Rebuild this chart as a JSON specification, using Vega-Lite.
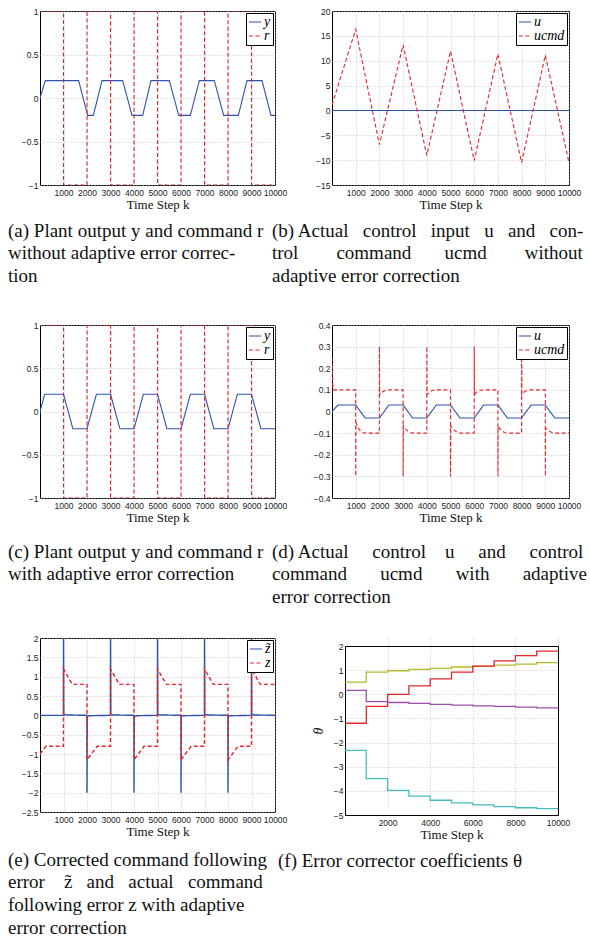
{
"$schema": "https://vega.github.io/schema/vega-lite/v6.json",
"background": "white",
"padding": {"left": 7, "top": 6, "right": 2, "bottom": 2},
"columns": 2,
"spacing": {"row": 140, "column": 57},
"bounds": "flush",
"align": "none",
"resolve": {"scale": {"color": "independent", "strokeDash": "independent"}, "legend": {"color": "independent", "strokeDash": "independent"}},
"datasets": {
"a": [
{"k":0,"v":0,"s":"y"},{"k":227,"v":0.2,"s":"y"},{"k":1645,"v":0.2,"s":"y"},{"k":2028,"v":-0.2,"s":"y"},{"k":2270,"v":-0.2,"s":"y"},{"k":2638,"v":0.2,"s":"y"},{"k":3518,"v":0.2,"s":"y"},{"k":3915,"v":-0.2,"s":"y"},{"k":4369,"v":-0.2,"s":"y"},{"k":4723,"v":0.2,"s":"y"},{"k":5504,"v":0.2,"s":"y"},{"k":5901,"v":-0.2,"s":"y"},{"k":6397,"v":-0.2,"s":"y"},{"k":6780,"v":0.2,"s":"y"},{"k":7418,"v":0.2,"s":"y"},{"k":7816,"v":-0.2,"s":"y"},{"k":8440,"v":-0.2,"s":"y"},{"k":8809,"v":0.2,"s":"y"},{"k":9447,"v":0.2,"s":"y"},{"k":9830,"v":-0.2,"s":"y"},{"k":10000,"v":-0.2,"s":"y"},
{"k":0,"v":1,"s":"r"},{"k":1000,"v":1,"s":"r"},{"k":1001,"v":-1,"s":"r"},{"k":2000,"v":-1,"s":"r"},{"k":2001,"v":1,"s":"r"},{"k":3000,"v":1,"s":"r"},{"k":3001,"v":-1,"s":"r"},{"k":4000,"v":-1,"s":"r"},{"k":4001,"v":1,"s":"r"},{"k":5000,"v":1,"s":"r"},{"k":5001,"v":-1,"s":"r"},{"k":6000,"v":-1,"s":"r"},{"k":6001,"v":1,"s":"r"},{"k":7000,"v":1,"s":"r"},{"k":7001,"v":-1,"s":"r"},{"k":8000,"v":-1,"s":"r"},{"k":8001,"v":1,"s":"r"},{"k":9000,"v":1,"s":"r"},{"k":9001,"v":-1,"s":"r"},{"k":10000,"v":-1,"s":"r"}
],
"b": [
{"k":0,"v":0,"s":"u"},{"k":10000,"v":0,"s":"u"},
{"k":0,"v":1.1,"s":"ucmd"},{"k":1000,"v":16.3,"s":"ucmd"},{"k":2000,"v":-6.9,"s":"ucmd"},{"k":3000,"v":13.2,"s":"ucmd"},{"k":4000,"v":-9.05,"s":"ucmd"},{"k":5000,"v":11.9,"s":"ucmd"},{"k":6000,"v":-10.1,"s":"ucmd"},{"k":7000,"v":11.35,"s":"ucmd"},{"k":8000,"v":-10.5,"s":"ucmd"},{"k":9000,"v":11.1,"s":"ucmd"},{"k":10000,"v":-10.5,"s":"ucmd"}
],
"c": [
{"k":0,"v":0,"s":"y"},{"k":200,"v":0.2,"s":"y"},{"k":1000,"v":0.2,"s":"y"},{"k":1400,"v":-0.2,"s":"y"},{"k":2000,"v":-0.2,"s":"y"},{"k":2400,"v":0.2,"s":"y"},{"k":3000,"v":0.2,"s":"y"},{"k":3400,"v":-0.2,"s":"y"},{"k":4000,"v":-0.2,"s":"y"},{"k":4400,"v":0.2,"s":"y"},{"k":5000,"v":0.2,"s":"y"},{"k":5400,"v":-0.2,"s":"y"},{"k":6000,"v":-0.2,"s":"y"},{"k":6400,"v":0.2,"s":"y"},{"k":7000,"v":0.2,"s":"y"},{"k":7400,"v":-0.2,"s":"y"},{"k":8000,"v":-0.2,"s":"y"},{"k":8400,"v":0.2,"s":"y"},{"k":9000,"v":0.2,"s":"y"},{"k":9400,"v":-0.2,"s":"y"},{"k":10000,"v":-0.2,"s":"y"},
{"k":0,"v":1,"s":"r"},{"k":1000,"v":1,"s":"r"},{"k":1001,"v":-1,"s":"r"},{"k":2000,"v":-1,"s":"r"},{"k":2001,"v":1,"s":"r"},{"k":3000,"v":1,"s":"r"},{"k":3001,"v":-1,"s":"r"},{"k":4000,"v":-1,"s":"r"},{"k":4001,"v":1,"s":"r"},{"k":5000,"v":1,"s":"r"},{"k":5001,"v":-1,"s":"r"},{"k":6000,"v":-1,"s":"r"},{"k":6001,"v":1,"s":"r"},{"k":7000,"v":1,"s":"r"},{"k":7001,"v":-1,"s":"r"},{"k":8000,"v":-1,"s":"r"},{"k":8001,"v":1,"s":"r"},{"k":9000,"v":1,"s":"r"},{"k":9001,"v":-1,"s":"r"},{"k":10000,"v":-1,"s":"r"}
],
"d": [
{"k":0,"v":0,"s":"u"},{"k":250,"v":0.03,"s":"u"},{"k":1000,"v":0.03,"s":"u"},{"k":1400,"v":-0.03,"s":"u"},{"k":2000,"v":-0.03,"s":"u"},{"k":2400,"v":0.03,"s":"u"},{"k":3000,"v":0.03,"s":"u"},{"k":3400,"v":-0.03,"s":"u"},{"k":4000,"v":-0.03,"s":"u"},{"k":4400,"v":0.03,"s":"u"},{"k":5000,"v":0.03,"s":"u"},{"k":5400,"v":-0.03,"s":"u"},{"k":6000,"v":-0.03,"s":"u"},{"k":6400,"v":0.03,"s":"u"},{"k":7000,"v":0.03,"s":"u"},{"k":7400,"v":-0.03,"s":"u"},{"k":8000,"v":-0.03,"s":"u"},{"k":8400,"v":0.03,"s":"u"},{"k":9000,"v":0.03,"s":"u"},{"k":9400,"v":-0.03,"s":"u"},{"k":10000,"v":-0.03,"s":"u"},
{"k":0,"v":0.25,"s":"ucmd"},{"k":40,"v":0.1,"s":"ucmd"},{"k":999,"v":0.1,"s":"ucmd"},{"k":1000,"v":-0.3,"s":"ucmd"},{"k":1010,"v":-0.05,"s":"ucmd"},{"k":1100,"v":-0.075,"s":"ucmd"},{"k":1200,"v":-0.09,"s":"ucmd"},{"k":1300,"v":-0.097,"s":"ucmd"},{"k":1420,"v":-0.1,"s":"ucmd"},{"k":1999,"v":-0.1,"s":"ucmd"},
{"k":2000,"v":0.3,"s":"ucmd"},{"k":2010,"v":0.075,"s":"ucmd"},{"k":2100,"v":0.088,"s":"ucmd"},{"k":2200,"v":0.095,"s":"ucmd"},{"k":2300,"v":0.099,"s":"ucmd"},{"k":2420,"v":0.1,"s":"ucmd"},{"k":2999,"v":0.1,"s":"ucmd"},
{"k":3000,"v":-0.3,"s":"ucmd"},{"k":3010,"v":-0.065,"s":"ucmd"},{"k":3100,"v":-0.08,"s":"ucmd"},{"k":3200,"v":-0.091,"s":"ucmd"},{"k":3300,"v":-0.097,"s":"ucmd"},{"k":3420,"v":-0.1,"s":"ucmd"},{"k":3999,"v":-0.1,"s":"ucmd"},
{"k":4000,"v":0.3,"s":"ucmd"},{"k":4010,"v":0.078,"s":"ucmd"},{"k":4100,"v":0.089,"s":"ucmd"},{"k":4200,"v":0.096,"s":"ucmd"},{"k":4300,"v":0.099,"s":"ucmd"},{"k":4420,"v":0.1,"s":"ucmd"},{"k":4999,"v":0.1,"s":"ucmd"},
{"k":5000,"v":-0.3,"s":"ucmd"},{"k":5010,"v":-0.065,"s":"ucmd"},{"k":5100,"v":-0.08,"s":"ucmd"},{"k":5200,"v":-0.091,"s":"ucmd"},{"k":5300,"v":-0.097,"s":"ucmd"},{"k":5420,"v":-0.1,"s":"ucmd"},{"k":5999,"v":-0.1,"s":"ucmd"},
{"k":6000,"v":0.3,"s":"ucmd"},{"k":6010,"v":0.078,"s":"ucmd"},{"k":6100,"v":0.089,"s":"ucmd"},{"k":6200,"v":0.096,"s":"ucmd"},{"k":6300,"v":0.099,"s":"ucmd"},{"k":6420,"v":0.1,"s":"ucmd"},{"k":6999,"v":0.1,"s":"ucmd"},
{"k":7000,"v":-0.3,"s":"ucmd"},{"k":7010,"v":-0.068,"s":"ucmd"},{"k":7100,"v":-0.082,"s":"ucmd"},{"k":7200,"v":-0.092,"s":"ucmd"},{"k":7300,"v":-0.098,"s":"ucmd"},{"k":7420,"v":-0.1,"s":"ucmd"},{"k":7999,"v":-0.1,"s":"ucmd"},
{"k":8000,"v":0.3,"s":"ucmd"},{"k":8010,"v":0.078,"s":"ucmd"},{"k":8100,"v":0.089,"s":"ucmd"},{"k":8200,"v":0.096,"s":"ucmd"},{"k":8300,"v":0.099,"s":"ucmd"},{"k":8420,"v":0.1,"s":"ucmd"},{"k":8999,"v":0.1,"s":"ucmd"},
{"k":9000,"v":-0.3,"s":"ucmd"},{"k":9010,"v":-0.075,"s":"ucmd"},{"k":9100,"v":-0.085,"s":"ucmd"},{"k":9200,"v":-0.093,"s":"ucmd"},{"k":9300,"v":-0.098,"s":"ucmd"},{"k":9420,"v":-0.1,"s":"ucmd"},{"k":10000,"v":-0.1,"s":"ucmd"}
],
"e": [
{"k":0,"v":0,"s":"z\u0303"},{"k":999,"v":0,"s":"z\u0303"},{"k":1000,"v":2,"s":"z\u0303"},{"k":1012,"v":0.03,"s":"z\u0303"},{"k":1100,"v":0.01,"s":"z\u0303"},{"k":1999,"v":0,"s":"z\u0303"},{"k":2000,"v":-2,"s":"z\u0303"},{"k":2012,"v":-0.03,"s":"z\u0303"},{"k":2100,"v":-0.01,"s":"z\u0303"},{"k":2999,"v":0,"s":"z\u0303"},{"k":3000,"v":2,"s":"z\u0303"},{"k":3012,"v":0.03,"s":"z\u0303"},{"k":3100,"v":0.01,"s":"z\u0303"},{"k":3999,"v":0,"s":"z\u0303"},{"k":4000,"v":-2,"s":"z\u0303"},{"k":4012,"v":-0.03,"s":"z\u0303"},{"k":4100,"v":-0.01,"s":"z\u0303"},{"k":4999,"v":0,"s":"z\u0303"},{"k":5000,"v":2,"s":"z\u0303"},{"k":5012,"v":0.03,"s":"z\u0303"},{"k":5100,"v":0.01,"s":"z\u0303"},{"k":5999,"v":0,"s":"z\u0303"},{"k":6000,"v":-2,"s":"z\u0303"},{"k":6012,"v":-0.03,"s":"z\u0303"},{"k":6100,"v":-0.01,"s":"z\u0303"},{"k":6999,"v":0,"s":"z\u0303"},{"k":7000,"v":2,"s":"z\u0303"},{"k":7012,"v":0.03,"s":"z\u0303"},{"k":7100,"v":0.01,"s":"z\u0303"},{"k":7999,"v":0,"s":"z\u0303"},{"k":8000,"v":-2,"s":"z\u0303"},{"k":8012,"v":-0.03,"s":"z\u0303"},{"k":8100,"v":-0.01,"s":"z\u0303"},{"k":8999,"v":0,"s":"z\u0303"},{"k":9000,"v":2,"s":"z\u0303"},{"k":9012,"v":0.03,"s":"z\u0303"},{"k":9100,"v":0.01,"s":"z\u0303"},{"k":10000,"v":0,"s":"z\u0303"},
{"k":0,"v":-1,"s":"z"},{"k":250,"v":-0.8,"s":"z"},{"k":999,"v":-0.8,"s":"z"},{"k":1000,"v":1.2,"s":"z"},{"k":1375,"v":0.8,"s":"z"},{"k":1999,"v":0.8,"s":"z"},{"k":2000,"v":-1.15,"s":"z"},{"k":2430,"v":-0.8,"s":"z"},{"k":2999,"v":-0.8,"s":"z"},{"k":3000,"v":1.2,"s":"z"},{"k":3375,"v":0.8,"s":"z"},{"k":3999,"v":0.8,"s":"z"},{"k":4000,"v":-1.15,"s":"z"},{"k":4430,"v":-0.8,"s":"z"},{"k":4999,"v":-0.8,"s":"z"},{"k":5000,"v":1.2,"s":"z"},{"k":5375,"v":0.8,"s":"z"},{"k":5999,"v":0.8,"s":"z"},{"k":6000,"v":-1.15,"s":"z"},{"k":6430,"v":-0.8,"s":"z"},{"k":6999,"v":-0.8,"s":"z"},{"k":7000,"v":1.2,"s":"z"},{"k":7375,"v":0.8,"s":"z"},{"k":7999,"v":0.8,"s":"z"},{"k":8000,"v":-1.15,"s":"z"},{"k":8430,"v":-0.8,"s":"z"},{"k":8999,"v":-0.8,"s":"z"},{"k":9000,"v":1.2,"s":"z"},{"k":9375,"v":0.8,"s":"z"},{"k":10000,"v":0.8,"s":"z"}
],
"f": [
{"k":0,"v":0.5,"s":"t1"},{"k":1000,"v":0.92,"s":"t1"},{"k":2000,"v":0.975,"s":"t1"},{"k":3000,"v":1.03,"s":"t1"},{"k":4000,"v":1.07,"s":"t1"},{"k":5000,"v":1.13,"s":"t1"},{"k":6000,"v":1.17,"s":"t1"},{"k":7000,"v":1.21,"s":"t1"},{"k":8000,"v":1.25,"s":"t1"},{"k":9000,"v":1.31,"s":"t1"},{"k":10000,"v":1.31,"s":"t1"},
{"k":0,"v":-1.2,"s":"t2"},{"k":1000,"v":-0.5,"s":"t2"},{"k":2000,"v":0,"s":"t2"},{"k":3000,"v":0.35,"s":"t2"},{"k":4000,"v":0.64,"s":"t2"},{"k":5000,"v":0.92,"s":"t2"},{"k":6000,"v":1.17,"s":"t2"},{"k":7000,"v":1.38,"s":"t2"},{"k":8000,"v":1.6,"s":"t2"},{"k":9000,"v":1.79,"s":"t2"},{"k":10000,"v":1.79,"s":"t2"},
{"k":0,"v":0.16,"s":"t3"},{"k":1000,"v":-0.3,"s":"t3"},{"k":2000,"v":-0.34,"s":"t3"},{"k":3000,"v":-0.38,"s":"t3"},{"k":4000,"v":-0.42,"s":"t3"},{"k":5000,"v":-0.45,"s":"t3"},{"k":6000,"v":-0.48,"s":"t3"},{"k":7000,"v":-0.5,"s":"t3"},{"k":8000,"v":-0.53,"s":"t3"},{"k":9000,"v":-0.56,"s":"t3"},{"k":10000,"v":-0.56,"s":"t3"},
{"k":0,"v":-2.32,"s":"t4"},{"k":1000,"v":-3.49,"s":"t4"},{"k":2000,"v":-3.98,"s":"t4"},{"k":3000,"v":-4.22,"s":"t4"},{"k":4000,"v":-4.39,"s":"t4"},{"k":5000,"v":-4.5,"s":"t4"},{"k":6000,"v":-4.58,"s":"t4"},{"k":7000,"v":-4.65,"s":"t4"},{"k":8000,"v":-4.7,"s":"t4"},{"k":9000,"v":-4.74,"s":"t4"},{"k":10000,"v":-4.74,"s":"t4"}
]
},
"concat": [
{
"width": 235, "height": 174,
"data": {"name": "a"},
"title": {"text": ["(a) Plant output y and command r", "\u00a0\u00a0\u00a0\u00a0\u00a0\u00a0without adaptive error correc-", "\u00a0\u00a0\u00a0\u00a0\u00a0\u00a0tion"], "dx": -32, "offset": 10},
"mark": {"type": "line", "clip": true},
"encoding": {
"x": {"field": "k", "type": "quantitative", "scale": {"domain": [0, 10000], "nice": false, "zero": false}, "axis": {"values": [1000,2000,3000,4000,5000,6000,7000,8000,9000,10000], "format": "d", "title": "Time Step k"}},
"y": {"field": "v", "type": "quantitative", "scale": {"domain": [-1, 1], "nice": false, "zero": false}, "axis": {"values": [-1,-0.5,0,0.5,1], "format": "~g", "title": null}},
"color": {"field": "s", "type": "nominal", "scale": {"domain": ["y","r"], "range": ["#2f52b0","#e62429"]}, "legend": {"title": null}},
"strokeDash": {"field": "s", "type": "nominal", "scale": {"domain": ["y","r"], "range": [[1,0],[4,2.5]]}, "legend": {"title": null}}
}
},
{
"width": 237, "height": 174,
"data": {"name": "b"},
"title": {"text": ["(b) Actual\u00a0\u00a0\u00a0control\u00a0\u00a0\u00a0input\u00a0\u00a0\u00a0u\u00a0\u00a0\u00a0and\u00a0\u00a0\u00a0con-", "\u00a0\u00a0\u00a0\u00a0\u00a0\u00a0trol\u00a0\u00a0\u00a0\u00a0\u00a0\u00a0\u00a0\u00a0command\u00a0\u00a0\u00a0\u00a0\u00a0\u00a0\u00a0ucmd\u00a0\u00a0\u00a0\u00a0\u00a0\u00a0\u00a0\u00a0without", "\u00a0\u00a0\u00a0\u00a0\u00a0\u00a0adaptive error correction"], "dx": -60, "offset": 10},
"mark": {"type": "line", "clip": true},
"encoding": {
"x": {"field": "k", "type": "quantitative", "scale": {"domain": [0, 10000], "nice": false, "zero": false}, "axis": {"values": [1000,2000,3000,4000,5000,6000,7000,8000,9000,10000], "format": "d", "title": "Time Step k"}},
"y": {"field": "v", "type": "quantitative", "scale": {"domain": [-15, 20], "nice": false, "zero": false}, "axis": {"values": [-15,-10,-5,0,5,10,15,20], "format": "~g", "title": null}},
"color": {"field": "s", "type": "nominal", "scale": {"domain": ["u","ucmd"], "range": ["#2f52b0","#e62429"]}, "legend": {"title": null}},
"strokeDash": {"field": "s", "type": "nominal", "scale": {"domain": ["u","ucmd"], "range": [[1,0],[4,2.5]]}, "legend": {"title": null}}
}
},
{
"width": 235, "height": 173,
"data": {"name": "c"},
"title": {"text": ["(c) Plant output y and command r", "\u00a0\u00a0\u00a0\u00a0\u00a0\u00a0with adaptive error correction"], "dx": -32, "offset": 18},
"mark": {"type": "line", "clip": true},
"encoding": {
"x": {"field": "k", "type": "quantitative", "scale": {"domain": [0, 10000], "nice": false, "zero": false}, "axis": {"values": [1000,2000,3000,4000,5000,6000,7000,8000,9000,10000], "format": "d", "title": "Time Step k"}},
"y": {"field": "v", "type": "quantitative", "scale": {"domain": [-1, 1], "nice": false, "zero": false}, "axis": {"values": [-1,-0.5,0,0.5,1], "format": "~g", "title": null}},
"color": {"field": "s", "type": "nominal", "scale": {"domain": ["y","r"], "range": ["#2f52b0","#e62429"]}, "legend": {"title": null}},
"strokeDash": {"field": "s", "type": "nominal", "scale": {"domain": ["y","r"], "range": [[1,0],[4,2.5]]}, "legend": {"title": null}}
}
},
{
"width": 237, "height": 173,
"data": {"name": "d"},
"title": {"text": ["(d) Actual\u00a0\u00a0\u00a0\u00a0\u00a0control\u00a0\u00a0\u00a0\u00a0u\u00a0\u00a0\u00a0\u00a0\u00a0and\u00a0\u00a0\u00a0\u00a0\u00a0control", "\u00a0\u00a0\u00a0\u00a0\u00a0\u00a0command\u00a0\u00a0\u00a0\u00a0\u00a0\u00a0\u00a0ucmd\u00a0\u00a0\u00a0\u00a0\u00a0\u00a0\u00a0with\u00a0\u00a0\u00a0\u00a0\u00a0\u00a0\u00a0adaptive", "\u00a0\u00a0\u00a0\u00a0\u00a0\u00a0error correction"], "dx": -60, "offset": 18},
"mark": {"type": "line", "clip": true},
"encoding": {
"x": {"field": "k", "type": "quantitative", "scale": {"domain": [0, 10000], "nice": false, "zero": false}, "axis": {"values": [1000,2000,3000,4000,5000,6000,7000,8000,9000,10000], "format": "d", "title": "Time Step k"}},
"y": {"field": "v", "type": "quantitative", "scale": {"domain": [-0.4, 0.4], "nice": false, "zero": false}, "axis": {"values": [-0.4,-0.3,-0.2,-0.1,0,0.1,0.2,0.3,0.4], "format": "~g", "title": null}},
"color": {"field": "s", "type": "nominal", "scale": {"domain": ["u","ucmd"], "range": ["#2f52b0","#e62429"]}, "legend": {"title": null}},
"strokeDash": {"field": "s", "type": "nominal", "scale": {"domain": ["u","ucmd"], "range": [[1,0],[4,2.5]]}, "legend": {"title": null}}
}
},
{
"width": 235, "height": 174,
"data": {"name": "e"},
"title": {"text": ["(e) Corrected command following", "\u00a0\u00a0\u00a0\u00a0\u00a0\u00a0error\u00a0\u00a0\u00a0\u00a0z\u0303\u00a0\u00a0\u00a0and\u00a0\u00a0\u00a0actual\u00a0\u00a0\u00a0command", "\u00a0\u00a0\u00a0\u00a0\u00a0\u00a0following error z with adaptive", "\u00a0\u00a0\u00a0\u00a0\u00a0\u00a0error correction"], "dx": -32, "offset": 12},
"mark": {"type": "line", "clip": true, "strokeWidth": 1.4},
"encoding": {
"x": {"field": "k", "type": "quantitative", "scale": {"domain": [0, 10000], "nice": false, "zero": false}, "axis": {"values": [1000,2000,3000,4000,5000,6000,7000,8000,9000,10000], "format": "d", "title": "Time Step k"}},
"y": {"field": "v", "type": "quantitative", "scale": {"domain": [-2.5, 2], "nice": false, "zero": false}, "axis": {"values": [-2.5,-2,-1.5,-1,-0.5,0,0.5,1,1.5,2], "format": "~g", "title": null}},
"color": {"field": "s", "type": "nominal", "scale": {"domain": ["z\u0303","z"], "range": ["#2f52b0","#e62429"]}, "legend": {"title": null}},
"strokeDash": {"field": "s", "type": "nominal", "scale": {"domain": ["z\u0303","z"], "range": [[1,0],[4,2.5]]}, "legend": {"title": null}}
}
},
{
"width": 226, "height": 177,
"data": {"name": "f"},
"view": {"stroke": null},
"title": {"text": ["(f) Error corrector coefficients \u03b8"], "dx": -54, "offset": 10},
"layer": [
{
"mark": {"type": "line", "interpolate": "step-after", "clip": true, "strokeWidth": 1.3},
"encoding": {
"x": {"field": "k", "type": "quantitative", "scale": {"domain": [0, 10000], "range": [13, 226], "nice": false, "zero": false}, "axis": {"values": [2000,4000,6000,8000,10000], "format": "d", "title": "Time Step k", "domain": true, "domainColor": "#000"}},
"y": {"field": "v", "type": "quantitative", "scale": {"domain": [-5, 2], "range": [177, 8], "nice": false, "zero": false}, "axis": {"values": [-5,-4,-3,-2,-1,0,1,2], "format": "~g", "title": "\u03b8", "titleFontStyle": "italic", "titleFontSize": 14, "titlePadding": 8, "offset": -13, "domain": true, "domainColor": "#000"}},
"color": {"field": "s", "type": "nominal", "scale": {"domain": ["t1","t2","t3","t4"], "range": ["#b5bb2c","#e3262b","#9c4fa8","#45bec0"]}, "legend": null}
}
},
{
"data": {"values": []},
"mark": {"type": "point"},
"encoding": {
"x": {"field": "k", "type": "quantitative", "scale": {"domain": [0, 10000], "range": [13, 226], "nice": false, "zero": false}, "axis": {"labels": false, "grid": false, "title": null, "domain": true, "domainColor": "#000", "offset": -8}},
"y": {"field": "v", "type": "quantitative", "scale": {"domain": [-5, 2], "range": [177, 8], "nice": false, "zero": false}, "axis": {"labels": false, "grid": false, "title": null, "domain": true, "domainColor": "#000"}}
}
}
],
"resolve": {"axis": {"x": "independent", "y": "independent"}}
}
],
"config": {
"view": {"stroke": "#000", "strokeWidth": 1},
"font": "Liberation Sans",
"line": {"strokeWidth": 1.1},
"axis": {"labelFont": "Liberation Sans", "labelFontSize": 8.5, "labelColor": "#222", "titleFont": "Liberation Serif", "titleFontSize": 13, "titleFontWeight": "normal", "titleColor": "#111", "grid": true, "gridColor": "#b8b8b8", "gridDash": [1, 2], "gridWidth": 0.8, "domain": false, "ticks": false, "labelPadding": 3, "labelOverlap": false},
"axisX": {"titlePadding": 2, "labelFlush": false},
"axisY": {"labelPadding": 2},
"legend": {"orient": "top-right", "offset": 2, "padding": 2, "strokeColor": "#000", "fillColor": "#fff", "symbolType": "stroke", "symbolSize": 150, "symbolStrokeWidth": 1.2, "labelFont": "Liberation Serif", "labelFontStyle": "italic", "labelFontSize": 14, "labelColor": "#000", "rowPadding": -2, "labelOffset": 2, "cornerRadius": 0},
"title": {"font": "Liberation Serif", "fontSize": 19, "fontWeight": "normal", "color": "#111", "orient": "bottom", "anchor": "start", "frame": "group", "lineHeight": 22.7}
}
}
